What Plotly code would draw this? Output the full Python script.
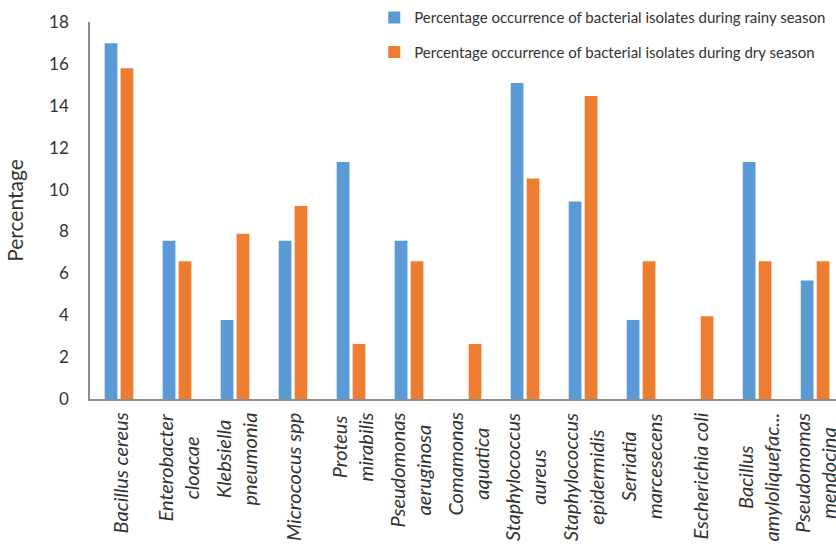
import plotly.graph_objects as go

categories = [
    "Bacillus cereus", "Enterobacter<br>cloacae", "Klebsiella<br>pneumonia",
    "Micrococus spp", "Proteus<br>mirabilis", "Pseudomonas<br>aeruginosa",
    "Comamonas<br>aquatica", "Staphylococcus<br>aureus", "Staphylococcus<br>epidermidis",
    "Serriatia<br>marcesecens", "Escherichia coli", "Bacillus<br>amyloliquefac...",
    "Pseudomomas<br>mendocina",
]
rainy = [16.98, 7.55, 3.77, 7.55, 11.32, 7.55, 0, 15.09, 9.43, 3.77, 0, 11.32, 5.66]
dry = [15.79, 6.58, 7.89, 9.21, 2.63, 6.58, 2.63, 10.53, 14.47, 6.58, 3.95, 6.58, 6.58]
y_ticks = [0, 2, 4, 6, 8, 10, 12, 14, 16, 18]

FONT = "Lato"
TXT = "#333333"

fig = go.Figure()
fig.add_trace(go.Bar(
    x=categories, y=rainy, marker_color="#5B9BD5", marker_line_width=0,
    name="Percentage occurrence of bacterial isolates during rainy season",
    legendgroup="a",
))
fig.add_trace(go.Bar(
    x=categories, y=dry, marker_color="#ED7D31", marker_line_width=0,
    name="Percentage occurrence of bacterial isolates during dry season",
    legendgroup="b",
))

# category labels, centred multi-line, rotated
for c in categories:
    fig.add_annotation(
        x=c, xref="x", y=0, yref="paper", yanchor="top", xanchor="center",
        yshift=-12, textangle=-90, align="center", showarrow=False,
        text=c, font=dict(family=FONT, size=20, color=TXT, style="italic"),
    )

fig.update_layout(
    width=836, height=547,
    margin=dict(l=90, r=0, t=22, b=148),
    paper_bgcolor="white", plot_bgcolor="white",
    barmode="group", bargap=0.45, bargroupgap=0.2,
    font=dict(family=FONT, color=TXT),
    legend=dict(
        x=0.381, y=1.055, xanchor="left", yanchor="top",
        font=dict(family=FONT, size=15, color=TXT),
        tracegroupgap=12, bgcolor="rgba(0,0,0,0)",
    ),
    showlegend=True,
)
fig.update_xaxes(
    type="category", range=[-0.5, 12.36],
    showline=True, linecolor="#8C8C8C", linewidth=1.5,
    showgrid=False, ticks="", showticklabels=False,
)
fig.update_yaxes(
    range=[0, 18], tickvals=y_ticks,
    showline=True, linecolor="#8C8C8C", linewidth=1.5,
    showgrid=False, zeroline=False, ticks="",
    tickfont=dict(family=FONT, size=17, color=TXT),
    ticklabelstandoff=16,
    title=dict(text="Percentage", font=dict(family=FONT, size=21, color=TXT), standoff=20),
)

fig.write_html("out.html")
